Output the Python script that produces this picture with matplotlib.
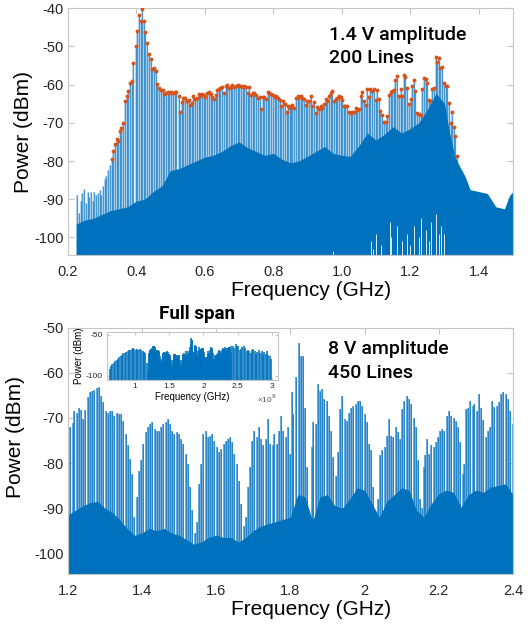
import numpy as np
import matplotlib
matplotlib.use('Agg')
import matplotlib.pyplot as plt

plt.rcParams['font.family'] = ['Liberation Sans', 'DejaVu Sans']
plt.rcParams['axes.unicode_minus'] = False

# ---------------- data ----------------
# top panel: 1.4 V amplitude, 200 lines -- unmarked lines below the band
TOP_PRE_GHZ = [0.228, 0.233, 0.238, 0.243, 0.248, 0.253, 0.258, 0.263, 0.268, 0.273,
               0.278, 0.283, 0.288, 0.293, 0.298, 0.303, 0.308, 0.313, 0.318, 0.323]
TOP_PRE_DBM = [-89.0, -93.5, -90.5, -88.5, -87.2, -91.0, -88.0, -89.5, -88.0, -90.5,
               -88.0, -89.0, -88.5, -87.6, -89.0, -86.5, -84.8, -84.0, -82.4, -81.0]

# marked comb lines (orange dots)
TOP_LINE_GHZ = [
    0.328, 0.333, 0.338, 0.343, 0.348, 0.353, 0.357, 0.362, 0.367, 0.372,
    0.377, 0.382, 0.387, 0.392, 0.398, 0.403, 0.408, 0.413, 0.417, 0.422,
    0.427, 0.432, 0.437, 0.442, 0.447, 0.453, 0.458, 0.462, 0.467, 0.472,
    0.477, 0.482, 0.487, 0.492, 0.497, 0.502, 0.507, 0.512, 0.517, 0.524,
    0.528, 0.533, 0.538, 0.543, 0.548, 0.553, 0.558, 0.563, 0.567, 0.572,
    0.577, 0.582, 0.587, 0.592, 0.597, 0.602, 0.607, 0.612, 0.617, 0.622,
    0.627, 0.632, 0.637, 0.642, 0.646, 0.651, 0.656, 0.661, 0.666, 0.671,
    0.676, 0.681, 0.686, 0.691, 0.696, 0.701, 0.706, 0.711, 0.716, 0.720,
    0.725, 0.730, 0.735, 0.740, 0.745, 0.750, 0.755, 0.760, 0.765, 0.770,
    0.774, 0.779, 0.784, 0.789, 0.794, 0.799, 0.804, 0.809, 0.814, 0.819,
    0.824, 0.829, 0.834, 0.839, 0.844, 0.848, 0.853, 0.856, 0.861, 0.866,
    0.871, 0.875, 0.880, 0.885, 0.890, 0.895, 0.900, 0.905, 0.909, 0.914,
    0.919, 0.924, 0.929, 0.934, 0.939, 0.943, 0.948, 0.953, 0.958, 0.963,
    0.968, 0.973, 0.977, 0.982, 0.987, 0.992, 0.997, 1.002, 1.007, 1.011,
    1.016, 1.021, 1.026, 1.031, 1.036, 1.041, 1.045, 1.050, 1.055, 1.060,
    1.065, 1.070, 1.075, 1.079, 1.084, 1.089, 1.094, 1.099, 1.104, 1.109,
    1.113, 1.118, 1.123, 1.128, 1.133, 1.138, 1.143, 1.147, 1.152, 1.157,
    1.162, 1.167, 1.172, 1.177, 1.181, 1.186, 1.191, 1.196, 1.201, 1.206,
    1.211, 1.215, 1.220, 1.225, 1.230, 1.235, 1.240, 1.245, 1.250, 1.254,
    1.259, 1.264, 1.269, 1.274, 1.279, 1.284, 1.288, 1.293, 1.298, 1.303,
    1.308, 1.313, 1.318, 1.322, 1.327, 1.332, 1.337]
TOP_LINE_DBM = [
    -79.5, -77.5, -75.5, -74.3, -74.7, -72.1, -71.4, -70.1, -64.4, -62.9,
    -61.6, -59.6, -59.0, -54.4, -50.0, -45.9, -41.8, -43.2, -40.3, -43.2,
    -46.1, -49.2, -52.0, -53.3, -55.9, -55.7, -56.5, -59.9, -60.8, -61.4,
    -61.4, -62.5, -62.3, -62.0, -62.3, -62.0, -62.1, -62.0, -62.0, -63.0,
    -67.1, -64.6, -63.6, -63.6, -64.4, -63.9, -65.4, -64.9, -63.0, -63.7,
    -63.6, -62.5, -63.0, -62.5, -62.7, -63.2, -62.2, -61.9, -62.5, -63.2,
    -63.7, -62.7, -61.4, -61.1, -60.8, -60.5, -62.1, -60.3, -60.2, -60.9,
    -60.7, -60.0, -60.5, -60.3, -60.2, -60.4, -60.3, -60.7, -60.4, -60.5,
    -62.2, -60.7, -62.8, -62.3, -62.1, -62.7, -63.6, -63.2, -66.5, -63.3,
    -63.2, -63.7, -61.9, -62.2, -62.5, -62.7, -63.2, -63.1, -63.6, -64.1,
    -65.5, -64.4, -65.0, -67.1, -65.5, -66.1, -65.5, -65.3, -66.2, -63.6,
    -63.1, -63.3, -63.1, -63.6, -63.8, -65.3, -64.2, -64.2, -63.1, -65.7,
    -64.6, -67.3, -65.9, -66.4, -65.5, -66.0, -65.0, -63.7, -64.3, -62.9,
    -62.1, -61.6, -64.4, -63.8, -63.4, -63.0, -63.3, -64.0, -65.7, -65.7,
    -65.7, -67.2, -67.5, -67.1, -67.1, -66.2, -66.6, -66.4, -63.1, -61.8,
    -64.4, -65.3, -61.2, -63.3, -61.2, -61.6, -61.2, -64.0, -61.4, -63.7,
    -66.9, -68.0, -69.9, -69.9, -68.3, -62.7, -61.8, -61.6, -61.4, -58.9,
    -57.7, -63.0, -61.1, -63.1, -57.4, -57.9, -60.9, -65.0, -63.8, -60.3,
    -58.9, -61.6, -67.5, -67.7, -67.9, -61.2, -58.3, -58.5, -59.6, -64.0,
    -64.3, -61.2, -60.8, -52.8, -54.0, -53.1, -55.7, -55.5, -59.5, -60.3,
    -60.3, -64.9, -70.1, -67.1, -71.2, -73.4, -78.7]

# noise floor (dark blue body of the trace)
TOP_FLOOR_GHZ = [0.225, 0.25, 0.275, 0.30, 0.325, 0.35, 0.375, 0.40, 0.425, 0.45,
                 0.475, 0.50, 0.525, 0.55, 0.575, 0.60, 0.625, 0.65, 0.675, 0.70,
                 0.725, 0.75, 0.775, 0.80, 0.825, 0.85, 0.875, 0.90, 0.925, 0.95,
                 0.975, 1.00, 1.025, 1.05, 1.075, 1.10, 1.125, 1.15, 1.175, 1.20,
                 1.225, 1.25, 1.275, 1.30, 1.315, 1.33, 1.345, 1.36, 1.375, 1.40,
                 1.425, 1.45, 1.475, 1.49, 1.50]
TOP_FLOOR_DBM = [-96.5, -95.5, -95.0, -94.0, -93.0, -92.5, -92.0, -90.5, -90.0, -88.0,
                 -86.5, -82.5, -82.0, -81.0, -80.0, -79.0, -78.5, -77.5, -76.0, -75.0,
                 -76.5, -77.5, -78.5, -78.0, -79.5, -80.5, -80.0, -78.8, -77.5, -76.2,
                 -78.0, -78.5, -78.8, -76.0, -72.7, -74.5, -73.0, -71.0, -72.7, -71.5,
                 -70.0, -66.6, -62.3, -64.9, -72.7, -78.8, -81.5, -84.0, -87.5, -88.0,
                 -88.5, -92.0, -92.5, -89.0, -88.0]

# deep notches that show white from the bottom
TOP_DIP_GHZ = [0.975, 1.085, 1.092, 1.100, 1.115, 1.140, 1.145, 1.160, 1.175, 1.190,
               1.200, 1.210, 1.225, 1.232, 1.245, 1.255, 1.262, 1.275, 1.283, 1.290, 1.300]
TOP_DIP_DBM = [-103.5, -101.0, -103.0, -99.0, -102.0, -96.0, -100.0, -97.0, -101.0, -99.0,
               -102.0, -97.0, -100.0, -95.0, -98.0, -101.0, -96.0, -94.0, -99.0, -97.0, -99.0]

# bottom panel: 8 V amplitude, 450 lines (1.2-2.4 GHz window)
BOT_LINE_GHZ = [
    1.202, 1.206, 1.213, 1.218, 1.224, 1.231, 1.236, 1.242, 1.248, 1.254,
    1.260, 1.266, 1.272, 1.278, 1.284, 1.290, 1.296, 1.302, 1.308, 1.314,
    1.320, 1.326, 1.332, 1.338, 1.344, 1.350, 1.356, 1.362, 1.368, 1.374,
    1.380, 1.386, 1.392, 1.398, 1.404, 1.410, 1.416, 1.422, 1.428, 1.434,
    1.440, 1.446, 1.452, 1.458, 1.464, 1.469, 1.476, 1.482, 1.487, 1.494,
    1.500, 1.505, 1.512, 1.518, 1.523, 1.530, 1.536, 1.542, 1.548, 1.554,
    1.559, 1.566, 1.572, 1.577, 1.584, 1.590, 1.595, 1.602, 1.608, 1.613,
    1.620, 1.626, 1.631, 1.638, 1.644, 1.649, 1.655, 1.662, 1.667, 1.674,
    1.680, 1.687, 1.691, 1.698, 1.703, 1.709, 1.716, 1.721, 1.727, 1.734,
    1.739, 1.745, 1.752, 1.757, 1.763, 1.770, 1.775, 1.781, 1.788, 1.793,
    1.799, 1.804, 1.808, 1.815, 1.824, 1.829, 1.835, 1.840, 1.846, 1.853,
    1.858, 1.862, 1.868, 1.874, 1.880, 1.886, 1.892, 1.898, 1.904, 1.910,
    1.916, 1.922, 1.928, 1.934, 1.940, 1.946, 1.952, 1.958, 1.964, 1.970,
    1.976, 1.982, 1.988, 1.994, 2.000, 2.006, 2.012, 2.018, 2.024, 2.030,
    2.036, 2.042, 2.048, 2.054, 2.060, 2.066, 2.071, 2.078, 2.084, 2.089,
    2.096, 2.102, 2.107, 2.114, 2.120, 2.125, 2.132, 2.138, 2.143, 2.149,
    2.154, 2.159, 2.163, 2.168, 2.174, 2.179, 2.186, 2.192, 2.197, 2.204,
    2.210, 2.215, 2.222, 2.228, 2.233, 2.240, 2.246, 2.251, 2.257, 2.264,
    2.269, 2.274, 2.280, 2.284, 2.291, 2.296, 2.302, 2.309, 2.314, 2.320,
    2.327, 2.332, 2.338, 2.343, 2.350, 2.356, 2.363, 2.368, 2.374, 2.381,
    2.386, 2.392, 2.399]
BOT_LINE_DBM = [
    -73.9, -72.1, -71.2, -68.4, -68.8, -67.8, -68.2, -70.2, -68.2, -65.4,
    -64.3, -64.0, -63.7, -63.4, -63.1, -65.1, -66.5, -68.5, -68.8, -68.4,
    -68.4, -69.5, -69.0, -69.1, -69.1, -70.6, -73.5, -76.1, -79.1, -82.4,
    -92.0, -87.5, -81.7, -79.4, -75.8, -73.2, -72.1, -71.3, -71.0, -72.4,
    -72.8, -72.8, -72.1, -71.3, -71.0, -70.2, -71.3, -72.8, -73.5, -73.2,
    -73.5, -74.6, -75.8, -78.0, -80.2, -85.3, -90.5, -95.5, -93.0, -84.6,
    -80.2, -73.5, -72.8, -74.3, -73.9, -73.5, -75.0, -76.5, -77.6, -76.9,
    -75.8, -75.0, -74.7, -74.3, -75.4, -78.0, -80.2, -83.9, -89.0, -94.0,
    -92.0, -85.3, -80.9, -75.0, -72.8, -74.3, -72.1, -74.7, -76.1, -74.7,
    -70.2, -75.8, -76.1, -73.5, -75.8, -72.8, -69.5, -72.8, -74.3, -72.1,
    -78.0, -64.3, -69.1, -61.0, -53.3, -56.2, -56.2, -67.7, -80.9, -93.4,
    -76.5, -71.0, -71.3, -62.5, -64.0, -63.6, -65.8, -66.2, -69.5, -72.8,
    -78.7, -82.8, -77.6, -68.0, -65.1, -70.2, -70.6, -68.8, -67.7, -67.3,
    -66.8, -66.3, -66.3, -67.3, -69.1, -71.0, -75.8, -77.2, -85.3, -91.0,
    -88.0, -78.3, -77.2, -76.5, -73.9, -70.2, -73.9, -74.3, -72.1, -73.2,
    -74.7, -68.0, -66.2, -65.1, -65.8, -66.9, -69.9, -72.1, -79.4, -88.0,
    -90.0, -80.9, -78.3, -74.7, -78.0, -76.1, -76.5, -75.4, -74.3, -72.8,
    -72.4, -72.8, -69.5, -68.4, -69.5, -69.9, -70.6, -72.1, -75.4, -82.4,
    -80.2, -68.0, -67.7, -66.2, -67.3, -66.8, -68.4, -64.7, -67.7, -70.5,
    -74.3, -72.8, -72.1, -66.2, -67.5, -67.3, -66.5, -64.7, -64.3, -64.7,
    -65.8, -68.4, -71.3]

BOT_FLOOR_GHZ = [1.20, 1.22, 1.24, 1.26, 1.28, 1.30, 1.32, 1.34, 1.36, 1.38,
                 1.40, 1.42, 1.44, 1.46, 1.48, 1.50, 1.52, 1.54, 1.56, 1.58,
                 1.60, 1.62, 1.64, 1.66, 1.68, 1.70, 1.72, 1.74, 1.76, 1.78,
                 1.80, 1.82, 1.84, 1.86, 1.88, 1.90, 1.92, 1.94, 1.96, 1.98,
                 2.00, 2.02, 2.04, 2.06, 2.08, 2.10, 2.12, 2.14, 2.16, 2.18,
                 2.20, 2.22, 2.24, 2.26, 2.28, 2.30, 2.32, 2.34, 2.36, 2.38, 2.40]
BOT_FLOOR_DBM = [-91.5, -90.5, -89.5, -88.8, -88.5, -90.0, -91.0, -92.5, -94.5, -96.0,
                 -95.5, -94.5, -95.0, -94.5, -95.5, -96.0, -97.0, -98.0, -97.5, -96.5,
                 -96.0, -96.5, -96.5, -97.5, -96.5, -95.0, -94.0, -93.5, -93.0, -92.5,
                 -92.0, -87.0, -87.5, -93.0, -87.5, -87.0, -89.5, -90.0, -88.0, -85.5,
                 -86.0, -89.0, -92.0, -88.5, -87.0, -85.5, -86.0, -90.5, -92.0, -89.0,
                 -86.8, -86.0, -86.5, -89.8, -87.0, -86.0, -86.5, -85.3, -85.0, -84.6, -87.0]

# inset (full span): parts outside the 1.2-2.4 GHz window
INSET_LOW_GHZ = [0.63, 0.65, 0.67, 0.69, 0.71, 0.73, 0.75, 0.77, 0.79, 0.81,
                 0.83, 0.85, 0.87, 0.89, 0.91, 0.93, 0.95, 0.97, 0.99, 1.01,
                 1.03, 1.05, 1.07, 1.09, 1.11, 1.13, 1.15, 1.17, 1.19]
INSET_LOW_DBM = [-92, -88, -86, -84, -82, -80.5, -79, -77.5, -76, -74,
                 -72.5, -71.5, -70.5, -69.5, -69, -68, -67, -66.5, -67, -68,
                 -67.5, -68.5, -67.5, -69, -70, -71, -72, -84, -94]
INSET_HIGH_GHZ = [2.41, 2.43, 2.45, 2.47, 2.49, 2.51, 2.53, 2.55, 2.57, 2.59,
                  2.61, 2.63, 2.65, 2.67, 2.69, 2.71, 2.73, 2.75, 2.77, 2.79,
                  2.81, 2.83, 2.85, 2.87, 2.89, 2.91, 2.93, 2.95, 2.97, 2.99]
INSET_HIGH_DBM = [-64, -63, -66, -61, -63, -64, -68, -67, -65, -64,
                  -66, -70, -68, -70, -72, -69, -67, -70, -73, -71,
                  -69, -72, -70, -74, -71, -73, -70, -74, -76, -79]

BLUE = '#0072BD'
LIGHT = '#5fa3da'
ORANGE = '#D95319'
SPINE = '#c6c6c6'
TXT = '#262626'


def style_axes(ax, size, length=4):
    for s in ax.spines.values():
        s.set_color(SPINE)
        s.set_linewidth(0.8)
    ax.tick_params(direction='in', top=True, right=True, color=SPINE,
                   labelcolor=TXT, labelsize=size, length=length)


fig = plt.figure(figsize=(5.3, 6.25), dpi=100)

# ---------------- top panel ----------------
ax1 = fig.add_axes([0.1277, 0.5915, 0.8402, 0.3952])
f_all = TOP_PRE_GHZ + TOP_LINE_GHZ
p_all = TOP_PRE_DBM + TOP_LINE_DBM
ax1.vlines(f_all, -110, p_all, color=LIGHT, lw=0.95, zorder=2)
ax1.vlines(f_all, -110, p_all, color=BLUE, lw=0.3, zorder=2.1)
ax1.fill_between(TOP_FLOOR_GHZ, -110, TOP_FLOOR_DBM, color=BLUE, lw=0, zorder=2.2)
ax1.vlines(TOP_DIP_GHZ, -110, TOP_DIP_DBM, color='white', lw=0.6, zorder=2.3)
ax1.plot(TOP_LINE_GHZ, TOP_LINE_DBM, 'o', color=ORANGE, ms=2.8, mew=0, zorder=3)
ax1.set_xlim(0.2, 1.5)
ax1.set_ylim(-104.7, -40)
ax1.set_xticks([0.2, 0.4, 0.6, 0.8, 1.0, 1.2, 1.4])
ax1.set_xticklabels(['0.2', '0.4', '0.6', '0.8', '1.0', '1.2', '1.4'])
ax1.set_yticks([-100, -90, -80, -70, -60, -50, -40])
style_axes(ax1, 10.5)
ax1.tick_params(axis='x', pad=7)
ax1.tick_params(axis='y', pad=3)
ax1.set_xlabel('Frequency (GHz)', fontsize=15, color='black', labelpad=5)
ax1.xaxis.set_label_coords(0.546, -0.105)
ax1.set_ylabel('Power (dBm)', fontsize=15, color='black', labelpad=1)
ax1.text(0.587, 0.872, '1.4 V amplitude', transform=ax1.transAxes,
         fontfamily='Roboto', fontweight='medium', fontsize=14, va='baseline')
ax1.text(0.587, 0.777, '200 Lines', transform=ax1.transAxes,
         fontfamily='Roboto', fontweight='medium', fontsize=14, va='baseline')

# ---------------- bottom panel ----------------
ax2 = fig.add_axes([0.1277, 0.0816, 0.8402, 0.394])
ax2.vlines(BOT_LINE_GHZ, -110, BOT_LINE_DBM, color=LIGHT, lw=1.3, zorder=2)
ax2.vlines(BOT_LINE_GHZ, -110, BOT_LINE_DBM, color=BLUE, lw=0.45, zorder=2.1)
ax2.fill_between(BOT_FLOOR_GHZ, -110, BOT_FLOOR_DBM, color=BLUE, lw=0, zorder=2.2)
ax2.set_xlim(1.2, 2.4)
ax2.set_ylim(-104.6, -50)
ax2.set_xticks([1.2, 1.4, 1.6, 1.8, 2.0, 2.2, 2.4])
ax2.set_xticklabels(['1.2', '1.4', '1.6', '1.8', '2', '2.2', '2.4'])
ax2.set_yticks([-100, -90, -80, -70, -60, -50])
style_axes(ax2, 10.5)
ax2.tick_params(axis='x', pad=7)
ax2.tick_params(axis='y', pad=3)
ax2.set_xlabel('Frequency (GHz)', fontsize=15, color='black', labelpad=5)
ax2.xaxis.set_label_coords(0.546, -0.105)
ax2.set_ylabel('Power (dBm)', fontsize=15, color='black', labelpad=1)
ax2.yaxis.set_label_coords(-0.095, 0.556)
ax2.text(0.585, 0.893, '8 V amplitude', transform=ax2.transAxes,
         fontfamily='Roboto', fontweight='medium', fontsize=14, va='baseline')
ax2.text(0.585, 0.796, '450 Lines', transform=ax2.transAxes,
         fontfamily='Roboto', fontweight='medium', fontsize=14, va='baseline')

# ---------------- inset: full span ----------------
axin = fig.add_axes([0.2019, 0.392, 0.3226, 0.0768])
f_in = INSET_LOW_GHZ + BOT_LINE_GHZ + INSET_HIGH_GHZ
p_in = INSET_LOW_DBM + BOT_LINE_DBM + INSET_HIGH_DBM
axin.vlines(f_in, -110, p_in, color=BLUE, lw=1.15)
axin.set_xlim(0.59, 3.09)
axin.set_ylim(-105, -46.5)
axin.set_xticks([1, 1.5, 2, 2.5, 3])
axin.set_xticklabels(['1', '1.5', '2', '2.5', '3'])
axin.set_yticks([-100, -50])
style_axes(axin, 6, length=2)
axin.tick_params(axis='x', pad=2.5)
axin.tick_params(axis='y', pad=3)
axin.set_xlabel('Frequency (GHz)', fontsize=7, labelpad=1)
axin.set_ylabel('Power (dBm)', fontsize=7, labelpad=1)
fig.text(0.504, 0.3616, '×10$^{9}$', fontsize=6, color='#555555', ha='center', va='center')

fig.text(0.3726, 0.489, 'Full span', ha='center', va='baseline',
         fontfamily='Roboto', fontweight='bold', fontsize=13.5)

fig.savefig('out.png', dpi=100)
